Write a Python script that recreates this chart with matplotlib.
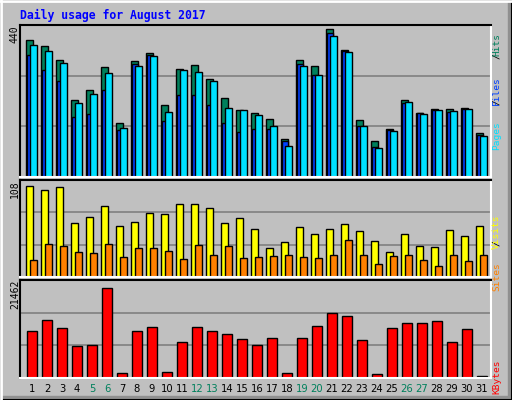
import matplotlib
matplotlib.use("Agg")
import matplotlib.pyplot as plt
from matplotlib.patches import Rectangle
from matplotlib.lines import Line2D

days = list(range(1, 32))
hits = [396, 378, 340, 224, 251, 317, 155, 335, 358, 207, 312, 323, 285, 230, 195, 184,
        169, 111, 338, 320, 427, 367, 166, 103, 140, 222, 184, 196, 196, 199, 126]
files = [352, 309, 277, 175, 181, 253, 137, 326, 352, 161, 236, 236, 207, 155, 129, 140,
         140, 103, 326, 294, 416, 364, 149, 88, 136, 213, 184, 193, 187, 198, 123]
pages = [381, 364, 329, 213, 239, 300, 143, 320, 349, 187, 309, 303, 277, 201, 193, 180,
         149, 91, 320, 294, 407, 361, 149, 85, 132, 216, 181, 193, 190, 198, 120]
visits = [101, 97, 100, 60, 67, 79, 57, 61, 71, 70, 81, 81, 77, 60, 66, 53,
          32, 39, 56, 48, 54, 59, 51, 40, 28, 48, 35, 33, 52, 46, 57]
sites = [19, 37, 34, 28, 27, 37, 22, 32, 32, 29, 20, 36, 25, 35, 21, 22,
         23, 25, 22, 21, 24, 41, 25, 15, 23, 24, 19, 12, 24, 18, 25]
kbytes = [10261, 12646, 10911, 7009, 7226, 19799, 1156, 10261, 11128, 1373, 7876, 11128,
          10261, 9611, 8527, 7226, 8743, 1156, 8743, 11345, 14163, 13513, 8310, 939,
          10911, 11995, 11995, 12429, 7876, 10694, 434]
weekends = [5, 6, 12, 13, 19, 20, 26, 27]
max_hits, max_visits, max_kbytes = 440, 108, 21462

W, H = 512, 400
BG = "#C0C0C0"
fig = plt.figure(figsize=(W / 100, H / 100), dpi=100, facecolor=BG)

def ax_at(x0, y0, x1, y1):
    return fig.add_axes([x0 / W, 1 - y1 / H, (x1 - x0) / W, (y1 - y0) / H])

def style(ax, ymax):
    ax.set_facecolor(BG)
    ax.set_xlim(-0.36, 31.0)
    ax.set_ylim(0, ymax)
    ax.set_xticks([]); ax.set_yticks([])
    for v in (ymax / 3, 2 * ymax / 3):
        ax.axhline(v, color="#808080", lw=1.2, zorder=0)
    for s in ("top", "left"):
        ax.spines[s].set_color("black"); ax.spines[s].set_linewidth(1.5)
    for s in ("bottom", "right"):
        ax.spines[s].set_color("white"); ax.spines[s].set_linewidth(1.5)

xs = [d - 1 for d in days]
ax1 = ax_at(20.3, 25, 490.7, 177)
style(ax1, max_hits)
ax1.bar([x + 0.0 for x in xs], hits, width=0.49, align="edge", color="#00805C", edgecolor="black", lw=1)
ax1.bar([x + 0.09 for x in xs], files, width=0.4, align="edge", color="#0040FF", edgecolor="black", lw=1)
ax1.bar([x + 0.27 for x in xs], pages, width=0.49, align="edge", color="#00E0FF", edgecolor="black", lw=1)

ax2 = ax_at(20.3, 180, 490.7, 277)
style(ax2, max_visits)
ax2.bar([x + 0.0 for x in xs], visits, width=0.49, align="edge", color="#FFFF00", edgecolor="black", lw=1)
ax2.bar([x + 0.27 for x in xs], sites, width=0.49, align="edge", color="#FF8000", edgecolor="black", lw=1)

ax3 = ax_at(20.3, 280, 490.7, 378)
style(ax3, max_kbytes)
ax3.bar([x + 0.07 for x in xs], kbytes, width=0.69, align="edge", color="#FF0000", edgecolor="black", lw=1)
for d, x in zip(days, xs):
    ax3.text(x + 0.42, -0.06, str(d), transform=ax3.get_xaxis_transform(), ha="center", va="top",
             fontsize=7.2, color="#00805C" if d in weekends else "black")

def ftxt(px, py, s, **kw):
    fig.text(px / W, 1 - py / H, s, **kw)

mono = "DejaVu Sans Mono"
ftxt(20, 15, "Daily usage for August 2017", color="#0000FF", fontsize=8.3, family=mono,
     fontweight="bold", va="center", ha="left")
for py, s in ((25, str(max_hits)), (180, str(max_visits)), (280, str(max_kbytes))):
    ftxt(15, py, s, rotation=90, fontsize=7, family=mono, ha="center", va="top", color="black")

def vlabel(px, py_bottom, pieces, step=5.7):
    i = 0
    for s, c in pieces:
        if s.strip():
            lead = len(s) - len(s.lstrip())
            ftxt(px, py_bottom - (i + lead) * step, s.strip(), rotation=90, fontsize=6.8,
                 family=mono, color=c, ha="center", va="bottom", rotation_mode="anchor")
        i += len(s)

vlabel(501, 136, [("Pages", "#00E0FF"), (" / ", "black"), ("Files", "#0040FF"),
                  (" / ", "black"), ("Hits", "#00805C")])
vlabel(501, 277, [("Sites", "#FF8000"), (" / ", "black"), ("Visits", "#FFFF00")])
vlabel(501, 377, [("KBytes", "#FF0000")])

# 3D frame
fig.add_artist(Rectangle((1 - 4 / W, 0), 4 / W, 1, transform=fig.transFigure, color="#909090", zorder=-1))
fig.add_artist(Rectangle((0, 0), 1, 4 / H, transform=fig.transFigure, color="#909090", zorder=-1))
fig.add_artist(Line2D([0.002, 0.002], [0, 1], transform=fig.transFigure, color="white", lw=2))
fig.add_artist(Line2D([0, 1], [0.998, 0.998], transform=fig.transFigure, color="white", lw=2))
fig.add_artist(Rectangle((0, 0), 1, 1, transform=fig.transFigure, fill=False, ec="black", lw=1.5))

fig.savefig("out.png", dpi=100, facecolor=BG)
